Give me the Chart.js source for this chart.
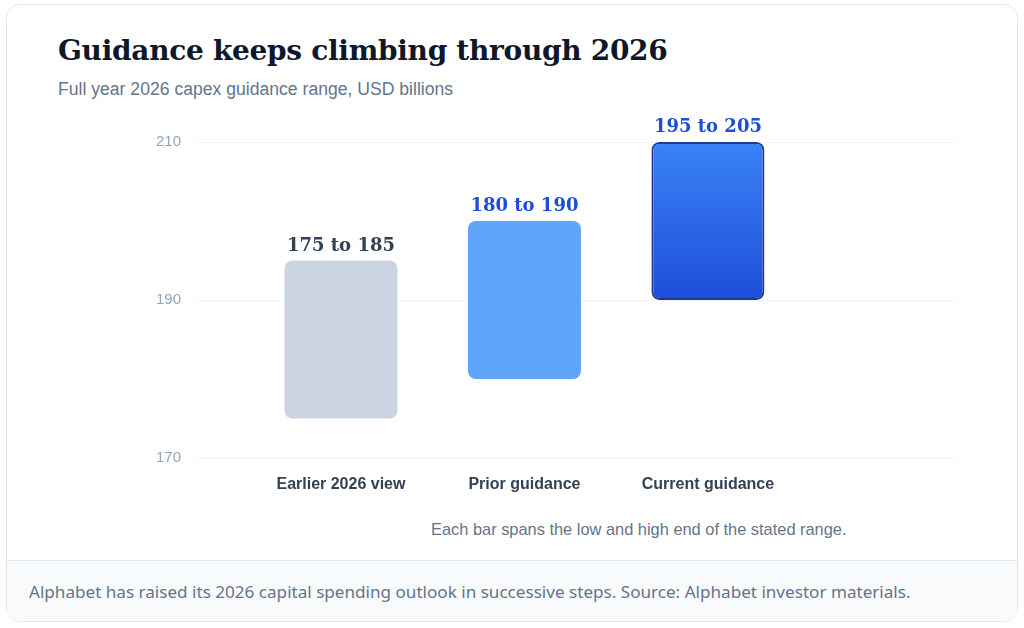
<!DOCTYPE html>
<html>
<head>
<meta charset="utf-8">
<script src="https://cdn.jsdelivr.net/npm/chart.js@4.4.1/dist/chart.umd.min.js"></script>
<style>
  html, body { margin: 0; padding: 0; background: #ffffff; }
  body { width: 1024px; height: 628px; position: relative; overflow: hidden; font-family: "Liberation Sans", Arial, sans-serif; }
  .card { position: absolute; left: 6px; top: 4px; width: 1010px; height: 616px; border: 1px solid #e5e7eb; border-radius: 14px; background: #fff; overflow: hidden; }
  .title { position: absolute; left: 51px; top: 29px; margin: 0; font-family: "DejaVu Serif", Georgia, serif; font-weight: bold; font-size: 28px; color: #0f172a; white-space: nowrap; letter-spacing: -0.3px; }
  .subtitle { position: absolute; left: 51px; top: 74px; margin: 0; font-size: 17.6px; color: #64748b; white-space: nowrap; }
  .note { position: absolute; left: 424px; top: 515px; font-size: 16.4px; color: #64748b; white-space: nowrap; }
  .footer { position: absolute; left: 0; top: 555px; width: 1010px; height: 61px; background: #f8fafc; border-top: 1px solid #e2e8f0; }
  .footer p { margin: 0; position: absolute; left: 22px; top: 19px; font-family: "Noto Sans", "Open Sans", sans-serif; font-size: 17.1px; color: #64748b; white-space: nowrap; }
  .chartbox { position: absolute; left: 0; top: 100px; width: 1024px; height: 410px; }
</style>
</head>
<body>
<div class="card">
  <h1 class="title">Guidance keeps climbing through 2026</h1>
  <p class="subtitle">Full year 2026 capex guidance range, USD billions</p>
  <div class="note">Each bar spans the low and high end of the stated range.</div>
  <div class="footer"><p>Alphabet has raised its 2026 capital spending outlook in successive steps. Source: Alphabet investor materials.</p></div>
</div>
<div class="chartbox"><canvas id="c" width="1024" height="410"></canvas></div>
<script>
const categories = ["Earlier 2026 view", "Prior guidance", "Current guidance"];
const lowValues = [175, 180, 190];
const highValues = [195, 200, 210];
const rangeLabels = ["175 to 185", "180 to 190", "195 to 205"];
const yTicks = [170, 190, 210];

const barFills = ["#cbd5e1", "#60a5fa", null];
const labelColors = ["#334155", "#1d4ed8", "#1d4ed8"];
const X_MIN = -0.79, X_MAX = 3.352;

const points = categories.map((c, i) => ({ x: i, y: [lowValues[i], highValues[i]] }));

const barLabelPlugin = {
  id: 'barLabels',
  afterDatasetsDraw(chart) {
    const ctx = chart.ctx;
    const meta = chart.getDatasetMeta(0);
    ctx.save();
    ctx.font = 'bold 18px "DejaVu Serif", Georgia, serif';
    ctx.textAlign = 'center';
    ctx.textBaseline = 'alphabetic';
    meta.data.forEach((bar, i) => {
      const p = bar.getProps(['x', 'y'], true);
      ctx.fillStyle = labelColors[i];
      ctx.fillText(rangeLabels[i], p.x, p.y - 10);
    });
    ctx.restore();
  }
};

new Chart(document.getElementById('c'), {
  type: 'bar',
  data: {
    datasets: [{
      data: points,
      backgroundColor(ctx) {
        const i = ctx.dataIndex;
        if (barFills[i]) return barFills[i];
        const chart = ctx.chart;
        const ca = chart.chartArea;
        if (!ca) return '#2563eb';
        const ys = chart.scales.y;
        const g = chart.ctx.createLinearGradient(0, ys.getPixelForValue(highValues[i]), 0, ys.getPixelForValue(lowValues[i]));
        g.addColorStop(0, '#3b82f6');
        g.addColorStop(1, '#1d4ed8');
        return g;
      },
      borderColor: ["rgba(0,0,0,0)", "rgba(0,0,0,0)", "#1e3a8a"],
      borderWidth: [0, 0, 2],
      borderRadius: 8,
      borderSkipped: false,
      barPercentage: 0.77,
      categoryPercentage: 0.8
    }]
  },
  options: {
    responsive: false,
    animation: false,
    layout: { padding: { left: 0, right: 68, top: 42, bottom: 12 } },
    plugins: { legend: { display: false }, tooltip: { enabled: false } },
    scales: {
      x: {
        type: 'linear',
        offset: false,
        bounds: 'data',
        min: X_MIN,
        max: X_MAX,
        grid: { display: false },
        border: { display: false },
        afterDataLimits(scale) { scale.min = X_MIN; scale.max = X_MAX; },
        afterBuildTicks(scale) { scale.ticks = categories.map((c, i) => ({ value: i })); },
        afterFit(scale) { scale.height = 40; },
        ticks: {
          autoSkip: false,
          maxRotation: 0,
          padding: 9,
          color: '#334155',
          font: { family: '"Liberation Sans", Arial, sans-serif', size: 16, weight: 'bold' },
          callback(v) { return categories[v]; }
        }
      },
      y: {
        min: 170,
        max: 210,
        afterBuildTicks(scale) { scale.ticks = yTicks.map(v => ({ value: v })); },
        afterFit(scale) { scale.width = 196; },
        grid: { color: '#f1f5f9', lineWidth: 1, drawTicks: false },
        border: { display: false },
        ticks: {
          padding: 15,
          color: '#94a3b8',
          font: { family: '"Liberation Sans", Arial, sans-serif', size: 15 }
        }
      }
    }
  },
  plugins: [barLabelPlugin]
});
</script>
</body>
</html>
